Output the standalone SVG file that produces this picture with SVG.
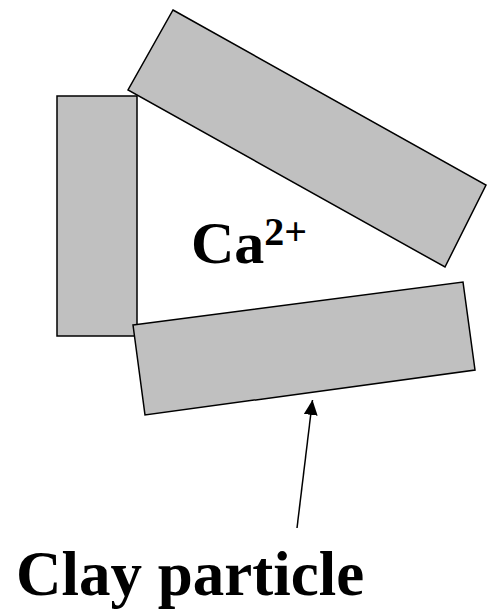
<svg xmlns="http://www.w3.org/2000/svg" width="487" height="611" viewBox="0 0 487 611">
<style>
.p{fill:#c0c0c0;stroke:#000;stroke-width:1.5;stroke-linejoin:miter}
.t{font-family:"Liberation Serif","Times New Roman",serif;font-weight:bold;fill:#000}
</style>
<defs>
<marker id="ah" markerWidth="15" markerHeight="14" refX="15" refY="7" orient="auto" markerUnits="userSpaceOnUse">
<path d="M0,0 L15,7 L0,14 Z" fill="#000"/>
</marker>
</defs>
<rect width="487" height="611" fill="#fff"/>
<g id="particle-left"><polygon class="p" points="57,96 137,96 137,336 57,336"/></g>
<g id="particle-top"><polygon class="p" points="173,10 486,185 445,267 128,90"/></g>
<g id="particle-bottom"><polygon class="p" points="133,325 463,282 475,370 145,415"/></g>
<g id="ion"><text class="t" x="191" y="263" font-size="60">Ca<tspan font-size="40" dy="-18">2+</tspan></text></g>
<g id="connectors"><line x1="297" y1="528" x2="312.5" y2="400" stroke="#000" stroke-width="1.5" marker-end="url(#ah)"/></g>
<g id="label"><text class="t" x="16" y="595" font-size="63">Clay particle</text></g>
</svg>
